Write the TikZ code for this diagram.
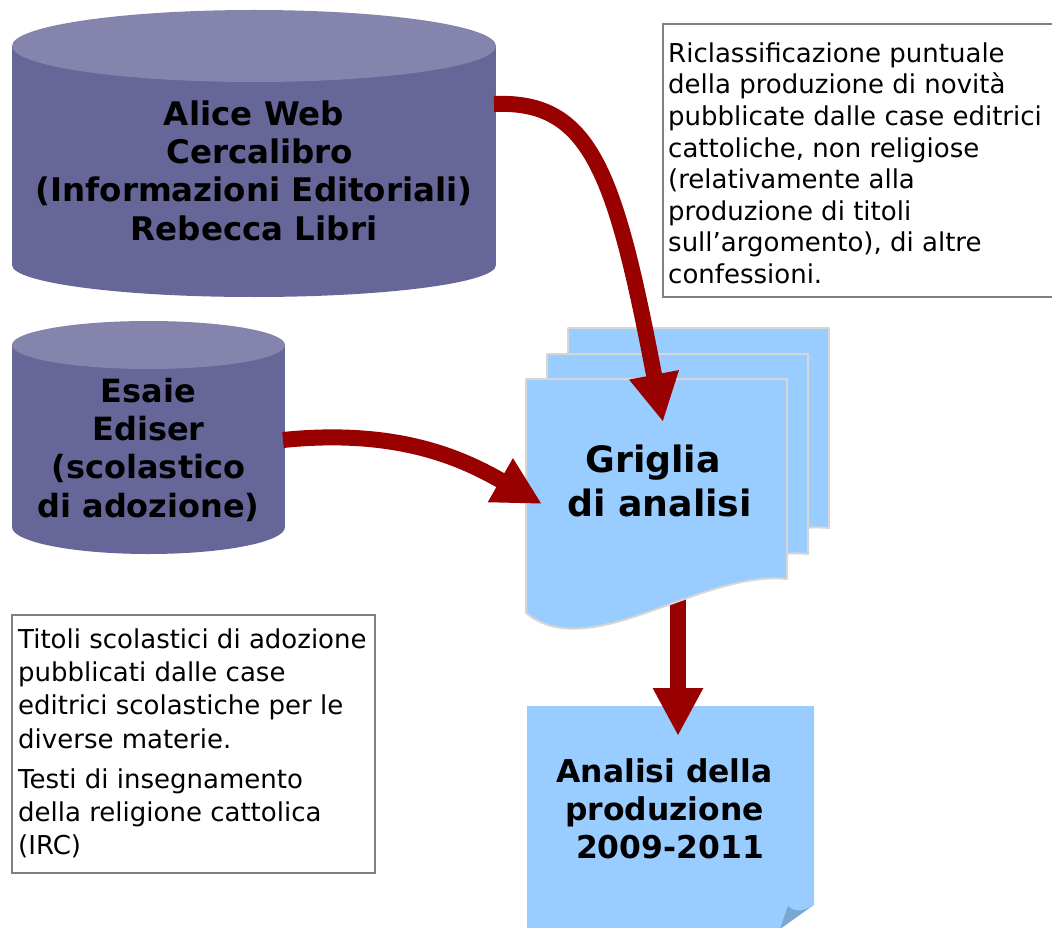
\documentclass[tikz,border=0pt]{standalone}
\usepackage{fontspec}
\setmainfont{DejaVu Sans}
\usetikzlibrary{arrows.meta}
\definecolor{cylbody}{RGB}{102,102,153}
\definecolor{cyltop}{RGB}{132,132,172}
\definecolor{pagefill}{RGB}{153,204,255}
\definecolor{pageedge}{RGB}{214,214,214}
\definecolor{foldcol}{RGB}{122,166,210}
\definecolor{arrowred}{RGB}{153,0,0}
\definecolor{boxedge}{RGB}{128,128,128}
\begin{document}
\begin{tikzpicture}[x=1pt,y=-1pt,
  flow/.style={draw=arrowred, line width=16pt, -{Triangle[length=48pt,width=47pt]}},
  boldtext/.style={align=center, inner sep=0pt, anchor=north},
  plaintext/.style={align=left, inner sep=0pt, anchor=north west},
  notebox/.style={draw=boxedge, line width=2pt, fill=white},
  docpage/.style={fill=pagefill, draw=pageedge, line width=2pt, line join=round}
]
\useasboundingbox (0,0) rectangle (1052,928);
\fill[white] (0,0) rectangle (1052,928);

% text boxes
\draw[notebox] (663,24) rectangle (1075,297);
\draw[notebox] (12,615) rectangle (375,873);

% big cylinder
\fill[cylbody] (12,46) rectangle (496,265);
\fill[cylbody] (254,265) ellipse [x radius=242, y radius=32];
\fill[cyltop] (254,46) ellipse [x radius=242, y radius=36];

% small cylinder
\fill[cylbody] (12,345) rectangle (285,527);
\fill[cylbody] (148.5,527) ellipse [x radius=136.5, y radius=27];
\fill[cyltop] (148.5,345) ellipse [x radius=136.5, y radius=24];

% note (result)
\fill[pagefill] (527,706) -- (814,706) -- (814,905) -- (780,929) -- (527,929) -- cycle;
\fill[foldcol] (788,906) .. controls (795,913) and (805,911) .. (813,905) -- (780,929) .. controls (783,920) .. (788,906) -- cycle;

% connector coordinates
\coordinate (aliceOut) at (494,104);
\coordinate (grigliaInTop) at (663,422);
\coordinate (esaieOut) at (283,440);
\coordinate (grigliaInLeft) at (542,504);
\coordinate (grigliaOut) at (678,598);
\coordinate (analisiIn) at (678,736);

% arrow from Griglia to Analisi (behind the pages)
\draw[flow] (grigliaOut) -- (analisiIn);

% stacked document pages
\foreach \dx/\dy in {42/-51, 21/-25, 0/0}{
  \draw[docpage, shift={(\dx,\dy)}] (526,379) -- (787,379) -- (787,579)
     .. controls (700,570) and (590,665) .. (526,613) -- cycle;
}

% arrows into Griglia
\draw[flow] (aliceOut) .. controls (590,100) and (615,170) .. (grigliaInTop);
\draw[flow] (esaieOut) .. controls (400,428) and (465,460) .. (grigliaInLeft);

% texts
\node[boldtext, font=\fontsize{32.5}{38.3}\selectfont\bfseries] (alice) at (254,95)
  {\rule{0pt}{30pt}Alice Web\\\hspace*{0.35em}Cercalibro\\(Informazioni Editoriali)\\Rebecca Libri};
\node[boldtext, font=\fontsize{32}{38.3}\selectfont\bfseries] (esaie) at (148.5,372)
  {\rule{0pt}{30pt}Esaie\\Ediser\\(scolastico\\di adozione)};
\node[boldtext, font=\fontsize{36.3}{44}\selectfont\bfseries] (griglia) at (659.5,440)
  {\rule{0pt}{32pt}Griglia\hspace*{0.35em}\\di analisi};
\node[boldtext, font=\fontsize{31.4}{38}\selectfont\bfseries] (analisi) at (664.5,752)
  {\rule{0pt}{30pt}Analisi della\\produzione\\\hspace*{0.35em}2009-2011};

\node[plaintext, font=\fontsize{26}{31.6}\selectfont] (riclass) at (668,32)
  {\rule{0pt}{30pt}Riclassificazione puntuale\\della produzione di novità\\pubblicate dalle case editrici\\cattoliche, non religiose\\(relativamente alla\\produzione di titoli\\sull’argomento), di altre\\confessioni.};
\node[plaintext, font=\fontsize{26}{33.3}\selectfont] (titoli) at (18,618)
  {\rule{0pt}{30pt}Titoli scolastici di adozione\\pubblicati dalle case\\editrici scolastiche per le\\diverse materie.\\[6.7pt]Testi di insegnamento\\della religione cattolica\\(IRC)};
\end{tikzpicture}
\end{document}
